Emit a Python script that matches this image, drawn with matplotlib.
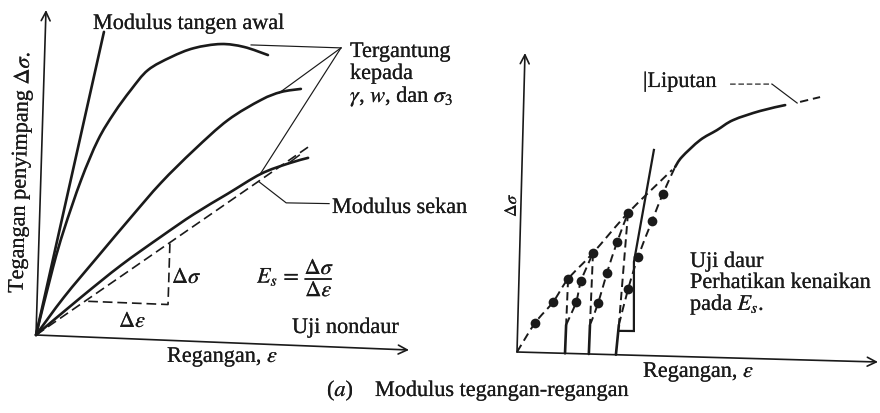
import matplotlib
matplotlib.use("Agg")
import matplotlib.pyplot as plt
import matplotlib.patheffects as pe
from matplotlib.path import Path
from matplotlib.patches import PathPatch
from matplotlib.transforms import Affine2D

plt.rcParams['font.family'] = ['Liberation Serif', 'DejaVu Serif']
plt.rcParams['mathtext.fontset'] = 'stix'
plt.rcParams['lines.scale_dashes'] = False

INK = '#1a1a1a'
FS = 16

# ---------- left panel: monotonic (non-cyclic) loading, relative strain / deviator stress ----------
tangent_strain = [0.0, 0.157]
tangent_stress = [0.0, 0.940]

stiff_strain = [0.0, 0.040, 0.066, 0.108, 0.150, 0.191, 0.234, 0.278, 0.339, 0.399, 0.471, 0.533, 0.598]
stiff_stress = [0.0, 0.210, 0.326, 0.482, 0.607, 0.692, 0.765, 0.828, 0.871, 0.901, 0.917, 0.911, 0.889]

medium_strain = [0.0, 0.072, 0.160, 0.245, 0.322, 0.408, 0.496, 0.583, 0.636, 0.689]
medium_stress = [0.0, 0.120, 0.250, 0.374, 0.483, 0.588, 0.684, 0.750, 0.777, 0.789]

soft_strain = [0.0, 0.117, 0.222, 0.327, 0.413, 0.502, 0.589, 0.661, 0.714]
soft_stress = [0.0, 0.121, 0.225, 0.318, 0.391, 0.458, 0.523, 0.558, 0.578]
soft_branch_strain = [0.661, 0.690]
soft_branch_stress = [0.558, 0.585]

secant_strain = [0.0, 0.713]
secant_stress = [0.0, 0.611]

# slope triangle under the secant
tri_strain = [0.137, 0.351, 0.351]
tri_stress = [0.110, 0.110, 0.301]

# leaders to "Tergantung kepada ..." and "Modulus sekan"
apex = (0.793, 0.920)
lead_targets_strain = [0.552, 0.631, 0.589]
lead_targets_stress = [0.918, 0.774, 0.526]
sekan_lead_strain = [0.585, 0.659, 0.774]
sekan_lead_stress = [0.498, 0.437, 0.440]

# ---------- right panel: cyclic loading ----------
envelope_strain = [0.0, 0.048, 0.096, 0.136, 0.203, 0.297, 0.416]
envelope_stress = [0.0, 0.099, 0.170, 0.249, 0.338, 0.475, 0.623]

curve_strain = [0.424, 0.442, 0.491, 0.537, 0.581, 0.655, 0.724]
curve_stress = [0.633, 0.667, 0.725, 0.760, 0.795, 0.828, 0.850]
curve_ext_strain = [0.765, 0.820]
curve_ext_stress = [0.862, 0.880]

reload1_strain = [0.133, 0.134, 0.160, 0.172, 0.203]
reload1_stress = [0.000, 0.095, 0.173, 0.243, 0.338]
reload2_strain = [0.199, 0.200, 0.221, 0.243, 0.269, 0.297]
reload2_stress = [0.000, 0.097, 0.171, 0.272, 0.377, 0.475]
reload3_strain = [0.274, 0.280, 0.303, 0.328, 0.364, 0.392, 0.424]
reload3_stress = [0.000, 0.100, 0.221, 0.329, 0.450, 0.542, 0.633]

unload_top_strain = [0.136, 0.203, 0.297]
unload_top_stress = [0.249, 0.338, 0.475]
unload_bot_strain = [0.134, 0.200, 0.280]
unload_bot_stress = [0.095, 0.097, 0.100]

dots_strain = [0.048, 0.096, 0.136, 0.203, 0.297,
               0.160, 0.172,
               0.221, 0.243, 0.269,
               0.303, 0.328, 0.364, 0.392]
dots_stress = [0.099, 0.170, 0.249, 0.338, 0.475,
               0.173, 0.243,
               0.171, 0.272, 0.377,
               0.221, 0.329, 0.450, 0.542]

reload_tangent_strain = [0.364, 0.317, 0.322, 0.279]
reload_tangent_stress = [0.688, 0.312, 0.081, 0.080]

liputan_lead_strain = [0.570, 0.686, 0.757]
liputan_lead_stress = [0.915, 0.919, 0.858]

# ---------- figure ----------
fig = plt.figure(figsize=(8.8, 4.13), dpi=100)
ax = fig.add_axes([0, 0, 1, 1])
ax.set_xlim(0, 880)
ax.set_ylim(413, 0)
ax.axis('off')

# each panel's axes are slightly skewed on the page
left_tr = Affine2D.from_values(373, 15, 10, -325, 36, 335) + ax.transData
right_tr = Affine2D.from_values(361, 10, 8, -299, 517, 352) + ax.transData


def axis_arrows(tr):
    for end in [(1.0, 0.0), (0.0, 1.0)]:
        ax.annotate('', xy=end, xytext=(0, 0), xycoords=tr, textcoords=tr,
                    arrowprops=dict(arrowstyle='->', lw=1.2, color=INK,
                                    mutation_scale=16, shrinkA=0, shrinkB=0))


def smooth(xs, ys, tr, **kw):
    """Draw a smooth curve through the given points (Catmull-Rom as cubic Beziers)."""
    pts = list(zip(xs, ys))
    if len(pts) < 3:
        ax.plot(xs, ys, transform=tr, **kw)
        return
    verts = [pts[0]]
    codes = [Path.MOVETO]
    n = len(pts)
    for i in range(n - 1):
        p0 = pts[max(i - 1, 0)]
        p1 = pts[i]
        p2 = pts[i + 1]
        p3 = pts[min(i + 2, n - 1)]
        c1 = (p1[0] + (p2[0] - p0[0]) / 6, p1[1] + (p2[1] - p0[1]) / 6)
        c2 = (p2[0] - (p3[0] - p1[0]) / 6, p2[1] - (p3[1] - p1[1]) / 6)
        verts += [c1, c2, p2]
        codes += [Path.CURVE4] * 3
    style = dict(fill=False, edgecolor=kw.get('color', INK), lw=kw.get('lw', 1.5),
                 capstyle='round', joinstyle='round')
    if 'dashes' in kw:
        style['linestyle'] = (0, kw['dashes'])
        style['capstyle'] = 'butt'
    ax.add_patch(PathPatch(Path(verts, codes), transform=tr, **style))


axis_arrows(left_tr)
axis_arrows(right_tr)

solid = dict(color=INK, lw=1.9)
thin = dict(color=INK, lw=0.85)
dash_l = dict(color=INK, lw=1.2, dashes=(7, 3.5))
dash_r = dict(color=INK, lw=1.4, dashes=(6, 3.5))

# left panel curves
ax.plot(tangent_strain, tangent_stress, transform=left_tr, solid_capstyle='round', **solid)
smooth(stiff_strain, stiff_stress, left_tr, **solid)
smooth(medium_strain, medium_stress, left_tr, **solid)
smooth(soft_strain, soft_stress, left_tr, **solid)
ax.plot(soft_branch_strain, soft_branch_stress, transform=left_tr, color=INK, lw=1.1)
ax.plot(secant_strain, secant_stress, transform=left_tr, **dash_l)
ax.plot(tri_strain, tri_stress, transform=left_tr, **dash_l)

for sx, sy in zip(lead_targets_strain, lead_targets_stress):
    ax.plot([apex[0], sx], [apex[1], sy], transform=left_tr, **thin)
ax.plot(sekan_lead_strain, sekan_lead_stress, transform=left_tr, **thin)

# right panel curves
smooth(envelope_strain, envelope_stress, right_tr, **dash_r)
smooth(curve_strain, curve_stress, right_tr, **solid)
ax.plot(curve_ext_strain, curve_ext_stress, transform=right_tr, **dash_r)
for xs, ys in [(reload1_strain, reload1_stress),
               (reload2_strain, reload2_stress),
               (reload3_strain, reload3_stress)]:
    ax.plot(xs[:2], ys[:2], transform=right_tr, solid_capstyle='round', **solid)
    smooth(xs[1:], ys[1:], right_tr, **dash_r)
for x0, y0, x1, y1 in zip(unload_top_strain, unload_top_stress,
                          unload_bot_strain, unload_bot_stress):
    ax.plot([x0, x1], [y0, y1], transform=right_tr, **dash_r)
ax.plot(reload_tangent_strain, reload_tangent_stress, transform=right_tr,
        color=INK, lw=1.6, solid_joinstyle='miter')
ax.plot(dots_strain, dots_stress, 'o', transform=right_tr, color=INK, ms=7, mew=0)
ax.plot(liputan_lead_strain[:2], liputan_lead_stress[:2], transform=right_tr,
        color=INK, lw=0.85, dashes=(4, 2))
ax.plot(liputan_lead_strain[1:], liputan_lead_stress[1:], transform=right_tr, **thin)

# ---------- text ----------
heavy = [pe.withStroke(linewidth=0.12, foreground=INK)]


def label(x, y, s, **kw):
    opts = dict(fontsize=FS, color=INK, ha='left', va='baseline', path_effects=heavy)
    opts.update(kw)
    ax.text(x, y, s, **opts)


label(93, 29, 'Modulus tangen awal')
label(350, 57, 'Tergantung')
label(350, 79, 'kepada')
label(350, 102, r'$\gamma$, $w$, dan $\sigma_3$')
label(332, 213, 'Modulus sekan')
label(172, 283, r'$\Delta\sigma$')
label(119, 327, r'$\Delta\epsilon$')
label(257, 278, r'$E_s\,=\,\dfrac{\Delta\sigma}{\Delta\epsilon}$', va='center')
label(292, 333, 'Uji nondaur')
label(167, 362, r'Regangan, $\epsilon$')
ax.text(21, 172, r'Tegangan penyimpang $\Delta\sigma$.', fontsize=FS, color=INK,
        rotation=88.4, ha='center', va='center', rotation_mode='anchor',
        path_effects=heavy)

ax.text(512, 205, r'$\Delta\sigma$', fontsize=12.5, color=INK, rotation=89,
        ha='center', va='center', path_effects=heavy)
label(643, 87, '|Liputan')
label(690, 267, 'Uji daur')
label(690, 288, 'Perhatikan kenaikan')
label(690, 310, r'pada $E_s$.')
label(643, 377, r'Regangan, $\epsilon$')

label(327, 396, r'($a$)')
label(375, 396, 'Modulus tegangan-regangan')

fig.savefig('out.png', dpi=100, facecolor='white')
